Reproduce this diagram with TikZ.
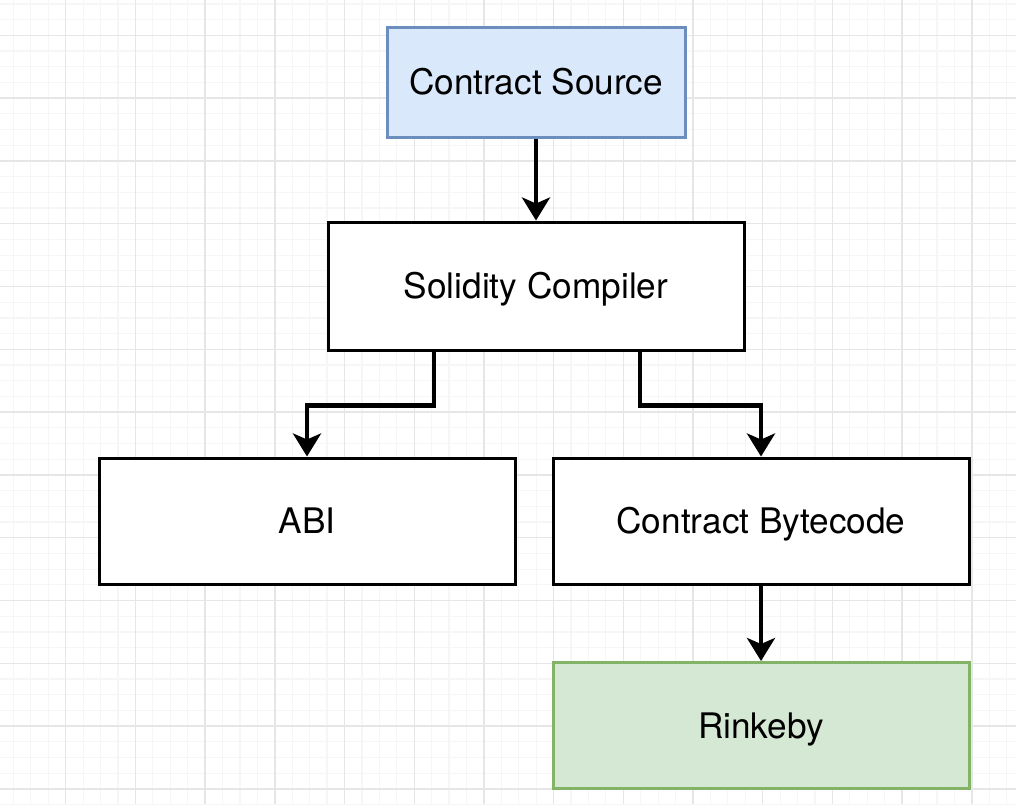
\documentclass[tikz,border=0pt]{standalone}
\usepackage{fontspec}
\setmainfont{TeX Gyre Heros}
\usetikzlibrary{arrows.meta}
\definecolor{srcfill}{HTML}{DAE8FC}
\definecolor{srcline}{HTML}{6C8EBF}
\definecolor{rinkfill}{HTML}{D5E8D4}
\definecolor{rinkline}{HTML}{82B366}
\definecolor{gridmajor}{HTML}{E6E6E6}
\definecolor{gridminor}{HTML}{F6F6F6}
\begin{document}
\begin{tikzpicture}[x=0.5pt,y=-0.5pt,>={Stealth[length=11.5pt,width=14pt,inset=3pt]},
  box/.style={draw,line width=1.5pt,fill=white,minimum width=208pt,minimum height=63pt,
    text height=12.6pt,text depth=0pt,font=\fontsize{17.6}{20}\selectfont},
  arr/.style={->,line width=2.2pt}]
\useasboundingbox (0,0) rectangle (1016,804);
\clip (0,0) rectangle (1016,804);
\fill[white] (0,0) rectangle (1016,804);
\foreach \i in {0,...,59} \draw[gridminor,line width=0.6pt] (-4+17.425*\i,0)--++(0,804);
\foreach \j in {0,...,53} \draw[gridminor,line width=0.6pt] (0,-27.5+15.7*\j)--++(1016,0);
\foreach \i in {0,...,14} \draw[gridmajor,line width=0.7pt] (-4+69.7*\i,0)--++(0,804);
\foreach \j in {0,...,13} \draw[gridmajor,line width=0.7pt] (0,-27.5+62.8*\j)--++(1016,0);
\node[box,fill=srcfill,draw=srcline,minimum width=149pt,minimum height=55pt] (src) at (536,82) {Contract Source};
\node[box,minimum height=64pt] (comp) at (536,286) {Solidity Compiler};
\node[box] (abi) at (307,521) {ABI};
\node[box] (byte) at (761,521) {Contract Bytecode};
\node[box,fill=rinkfill,draw=rinkline] (rink) at (761,725.5) {Rinkeby};
\draw[arr] (src)--(comp);
\draw[arr] ([xshift=-51pt]comp.south)--++(0,54)-|(abi);
\draw[arr] ([xshift=52pt]comp.south)--++(0,54)-|(byte);
\draw[arr] (byte)--(rink);
\end{tikzpicture}
\end{document}
